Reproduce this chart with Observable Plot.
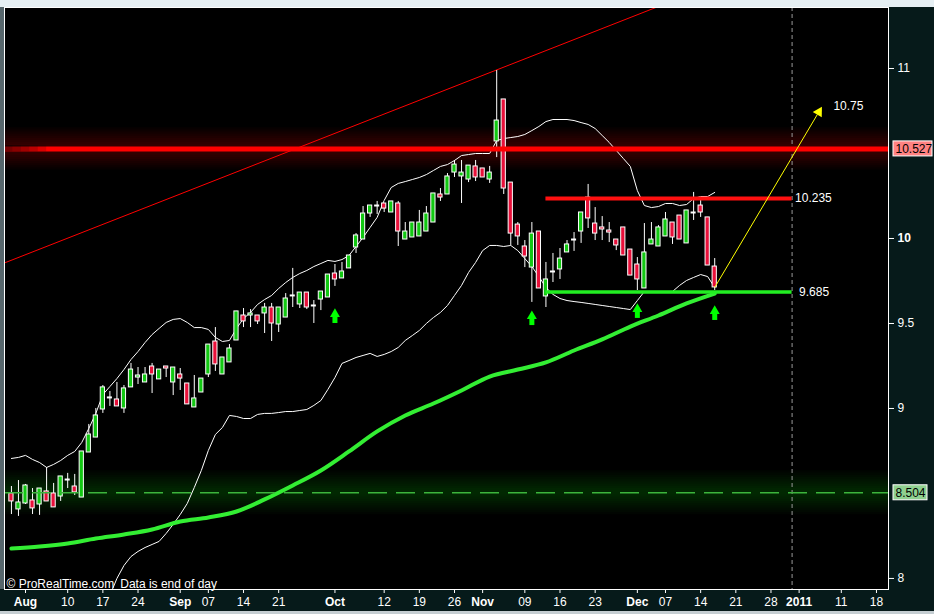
<!DOCTYPE html>
<html><head><meta charset="utf-8">
<script src="https://cdn.jsdelivr.net/npm/d3@7"></script>
<script src="https://cdn.jsdelivr.net/npm/@observablehq/plot@0.6"></script>
<style>
html,body{margin:0;padding:0;background:#e6eff3;}
#chart{width:934px;height:614px;overflow:hidden;}
#chart svg{display:block;}
</style></head><body><div id="chart"></div>
<script>
// ---- DATA ----
// Daily candles; trading-day index 0 = Mon 2 Aug 2010, first candle = Thu 29 Jul 2010
const firstIndex = -2;
const open  = [8.500,8.406,8.441,8.459,8.435,8.512,8.500,8.482,8.582,8.541,8.476,8.741,8.829,8.994,9.065,9.053,9.000,9.124,9.182,9.153,9.247,9.171,9.247,9.153,9.200,9.147,9.006,9.094,9.200,9.394,9.200,9.271,9.400,9.547,9.547,9.547,9.559,9.594,9.494,9.535,9.665,9.612,9.682,9.606,9.641,9.653,9.794,9.765,9.824,9.947,9.994,10.147,10.194,10.206,10.153,10.206,9.994,10.006,10.012,10.041,10.094,10.259,10.259,10.388,10.365,10.347,10.424,10.412,10.347,10.571,10.818,10.329,10.082,9.953,9.829,10.041,9.659,9.806,9.818,9.918,9.994,10.041,10.241,10.088,10.065,10.047,9.994,10.065,9.935,9.847,9.706,9.965,9.953,10.012,10.094,10.135,9.971,10.153,10.194,10.124,9.835];
const high  = [8.541,8.576,8.553,8.529,8.529,8.653,8.559,8.600,8.618,8.612,8.747,8.906,9.000,9.135,9.100,9.153,9.135,9.265,9.241,9.241,9.265,9.229,9.247,9.241,9.235,9.147,9.194,9.176,9.376,9.476,9.300,9.376,9.571,9.588,9.582,9.547,9.618,9.618,9.594,9.676,9.824,9.682,9.682,9.635,9.688,9.788,9.847,9.859,9.900,10.029,10.188,10.194,10.218,10.206,10.218,10.218,10.094,10.094,10.165,10.188,10.265,10.294,10.382,10.459,10.459,10.429,10.459,10.412,10.424,10.988,10.818,10.329,10.094,9.988,10.094,10.041,9.859,9.912,9.941,9.988,10.035,10.153,10.318,10.182,10.129,10.094,9.994,10.065,9.935,9.888,10.088,10.094,10.076,10.153,10.094,10.135,10.165,10.271,10.241,10.124,9.882];
const low   = [8.376,8.365,8.435,8.376,8.371,8.453,8.418,8.453,8.529,8.488,8.476,8.741,8.829,8.971,9.012,9.012,8.971,9.124,9.141,9.153,9.088,9.171,9.182,9.076,9.106,9.024,9.006,9.094,9.182,9.218,9.200,9.271,9.400,9.476,9.476,9.494,9.441,9.394,9.447,9.535,9.594,9.588,9.582,9.500,9.576,9.653,9.718,9.765,9.824,9.912,9.994,10.124,10.141,10.153,10.153,9.953,9.994,10.006,10.012,10.041,10.094,10.218,10.259,10.359,10.206,10.329,10.335,10.359,10.324,10.476,10.259,9.959,9.959,9.829,9.624,9.706,9.594,9.741,9.759,9.918,9.924,9.971,10.059,9.988,9.988,9.976,9.929,9.900,9.782,9.694,9.706,9.965,9.953,10.012,9.965,9.994,9.971,10.106,10.124,9.841,9.694];
const close = [8.453,8.447,8.547,8.412,8.529,8.453,8.418,8.600,8.582,8.506,8.747,8.847,8.959,9.124,9.065,9.012,9.118,9.229,9.194,9.200,9.200,9.229,9.235,9.241,9.176,9.024,9.059,9.176,9.376,9.259,9.300,9.353,9.571,9.512,9.559,9.512,9.594,9.500,9.594,9.647,9.665,9.682,9.594,9.606,9.688,9.788,9.759,9.806,9.900,10.018,10.147,10.194,10.194,10.176,10.218,10.041,10.041,10.094,10.094,10.147,10.265,10.241,10.365,10.435,10.388,10.429,10.359,10.359,10.388,10.694,10.294,10.029,10.012,9.894,10.029,9.706,9.759,9.806,9.882,9.965,9.994,10.153,10.118,10.029,10.053,10.035,9.959,9.900,9.782,9.759,9.918,9.994,10.065,10.112,10.006,9.994,10.165,10.153,10.153,9.841,9.712];

// Bollinger bands, one value per candle (null = below the chart)
const upperBand = [8.706,8.712,8.724,8.700,8.682,8.653,8.671,8.694,8.724,8.747,8.800,8.882,8.971,9.082,9.129,9.176,9.229,9.288,9.335,9.388,9.435,9.471,9.506,9.524,9.529,9.506,9.476,9.476,9.465,9.418,9.394,9.400,9.471,9.529,9.565,9.612,9.641,9.665,9.706,9.741,9.771,9.794,9.812,9.835,9.853,9.871,9.865,9.876,9.900,9.953,10.006,10.065,10.124,10.224,10.300,10.324,10.335,10.347,10.359,10.376,10.400,10.424,10.435,10.459,10.488,10.494,10.500,10.500,10.500,10.576,10.588,10.594,10.600,10.612,10.635,10.659,10.688,10.700,10.700,10.700,10.694,10.682,10.671,10.647,10.606,10.565,10.518,10.471,10.424,10.282,10.194,10.182,10.188,10.206,10.206,10.194,10.200,10.235,10.247,10.247,10.271];
const lowerBand = [null,null,null,null,null,null,null,null,null,null,null,null,null,null,7.900,8.000,8.076,8.129,8.159,8.182,8.200,8.218,8.265,8.318,8.376,8.441,8.535,8.635,8.753,8.847,8.888,8.959,8.953,8.941,8.941,8.965,8.971,8.971,8.976,8.982,8.982,8.988,8.994,9.018,9.047,9.112,9.182,9.265,9.282,9.300,9.312,9.324,9.306,9.318,9.335,9.359,9.400,9.429,9.459,9.500,9.535,9.565,9.606,9.665,9.724,9.800,9.859,9.929,9.959,9.959,9.953,9.959,9.929,9.882,9.835,9.776,9.712,9.671,9.647,9.635,9.629,9.624,9.618,9.612,9.606,9.600,9.594,9.588,9.582,9.635,9.688,9.688,9.688,9.688,9.688,9.724,9.753,9.771,9.788,9.776,9.712];

// Moving average (thick green line)
const maIndex = [-2,2,6,10,14,18,22,26,30,34,38,42,46,50,54,58,62,66,70,74,78,82,86,90,94,98];
const maValue = [8.176,8.188,8.206,8.235,8.259,8.288,8.335,8.359,8.394,8.465,8.547,8.635,8.747,8.865,8.959,9.029,9.106,9.188,9.229,9.271,9.341,9.406,9.482,9.547,9.618,9.676];

// x axis ticks (trading-day index) and labels
const monthTicks  = [0, 22, 44, 65, 87, 110];
const monthLabels = ["Aug", "Sep", "Oct", "Nov", "Dec", "2011"];
const dayTicks  = [6, 11, 16, 26, 31, 36, 51, 56, 61, 71, 76, 81, 91, 96, 101, 106, 116, 121];
const dayLabels = ["10","17","24","07","14","21","12","19","26","09","16","23","07","14","21","28","11","18"];
// y axis ticks
const yTicks = [8, 9, 9.5, 11];
const yTicksBold = [10];

// annotations
const resistance = 10.527;      // thick red line
const support = 8.504;          // dashed green line
const levelTop = 10.235, levelBottom = 9.685, levelFrom = 74, levelTo = 109;
const yearEnd = 109;            // Fri 31 Dec 2010
const trendStart = {i: -3, v: 9.856}, trendEnd = {i: 90, v: 11.365};
const target = {from: 98, fromV: 9.712, to: 112.6, toV: 10.73, label: "10.75"};
const arrowIdx = [44, 72, 87, 98];
const arrowTip = [9.588, 9.576, 9.618, 9.606];

// ---- BUILD ----
const candles = open.map((o, k) => ({i: firstIndex + k, o, h: high[k], l: low[k], c: close[k]}));
const ups = candles.filter(d => d.c > d.o);
const downs = candles.filter(d => d.c < d.o);
const dojis = candles.filter(d => d.c === d.o);
const upper = upperBand.map((v, k) => ({i: firstIndex + k, v})).filter(d => d.v != null);
const lower = lowerBand.map((v, k) => ({i: firstIndex + k, v})).filter(d => d.v != null);
const ma = maIndex.map((i, k) => ({i, v: maValue[k]}));
const arrows = arrowIdx.map((i, k) => ({i, v: arrowTip[k]}));
const monthName = new Map(monthTicks.map((t, k) => [t, monthLabels[k]]));
const dayName = new Map(dayTicks.map((t, k) => [t, dayLabels[k]]));
const glow = d3.range(1, 11);
const fade = d3.range(1, 6);

const xDomain = [-2.986, 122.71];
const yDomain = [7.935, 11.359];
const GREEN = "#12c812", RED = "#e8103a";

const chart = Plot.plot({
  width: 934, height: 614,
  marginLeft: 4, marginRight: 46, marginTop: 7, marginBottom: 25,
  x: {domain: xDomain, axis: null, label: null},
  y: {domain: yDomain, axis: null, label: null},
  style: {background: "#061a1a", color: "white", fontFamily: "'Liberation Sans', Arial, sans-serif", fontSize: "12px", overflow: "visible"},
  marks: [
    // top light strip, left strip, bottom light line
    Plot.rect([0], {x1: xDomain[0], x2: xDomain[1], y1: yDomain[1], y2: yDomain[1], insetLeft: -4, insetRight: -46, insetTop: -7, insetBottom: 0, fill: "#e6eff3"}),
    Plot.rect([0], {x1: xDomain[0], x2: xDomain[0], y1: yDomain[0], y2: yDomain[1], insetLeft: -4, insetRight: 0, fill: "#56666c"}),
    Plot.rect([0], {x1: xDomain[0], x2: xDomain[1], y1: yDomain[0], y2: yDomain[0], insetLeft: -4, insetRight: -46, insetTop: 22, insetBottom: -25, fill: "#c5ced2"}),
    Plot.frame({fill: "black"}),
    // glows
    Plot.rect(glow, {x1: xDomain[0], x2: xDomain[1], y1: k => resistance - k * 0.0125, y2: k => resistance + k * 0.0125, fill: "#ff0000", fillOpacity: 0.026}),
    Plot.rect(glow, {x1: xDomain[0], x2: xDomain[1], y1: k => support - k * 0.013, y2: k => support + k * 0.013, fill: "#33aa33", fillOpacity: 0.028}),
    // year-end dashed line
    Plot.ruleX([yearEnd], {stroke: "#9a9a9a", strokeDasharray: "4,3"}),
    // trend line
    Plot.link([0], {x1: trendStart.i, y1: trendStart.v, x2: trendEnd.i, y2: trendEnd.v, stroke: "#ff0000", strokeWidth: 1, clip: true}),
    // bands and moving average
    Plot.line(upper, {x: "i", y: "v", stroke: "white", strokeWidth: 1, clip: true}),
    Plot.line(lower, {x: "i", y: "v", stroke: "white", strokeWidth: 1, clip: true}),
    Plot.line(ma, {x: "i", y: "v", stroke: "#33ee33", strokeWidth: 4, curve: "monotone-x", clip: true}),
    // candles
    Plot.ruleX(candles, {x: "i", y1: "l", y2: "h", stroke: "white", strokeWidth: 1}),
    Plot.rect(ups, {x1: d => d.i - 0.3, x2: d => d.i + 0.3, y1: "o", y2: "c", fill: GREEN, stroke: "white", strokeWidth: 1}),
    Plot.rect(downs, {x1: d => d.i - 0.3, x2: d => d.i + 0.3, y1: "o", y2: "c", fill: RED, stroke: "white", strokeWidth: 1}),
    Plot.ruleY(dojis, {y: "c", x1: d => d.i - 0.36, x2: d => d.i + 0.36, stroke: "white", strokeWidth: 2}),
    // horizontal levels
    Plot.ruleY([levelTop], {x1: levelFrom, x2: levelTo, stroke: "#ff1010", strokeWidth: 4}),
    Plot.ruleY([levelBottom], {x1: levelFrom, x2: levelTo, stroke: "#22ee22", strokeWidth: 3.5}),
    Plot.ruleY([resistance], {stroke: "#ff0000", strokeWidth: 5}),
    Plot.rect(fade, {x1: xDomain[0], x2: k => xDomain[0] + k * 1.2, y1: resistance - 0.018, y2: resistance + 0.018, fill: "black", fillOpacity: 0.14}),
    Plot.ruleY([support], {stroke: "#3cb43c", strokeWidth: 1.5, strokeDasharray: "19,9"}),
    // target arrow
    Plot.link([0], {x1: target.from, y1: target.fromV, x2: target.to, y2: target.toV, stroke: "#ffff00", strokeWidth: 1}),
    Plot.dot([0], {x: target.to + 0.2, y: target.toV + 0.014, symbol: "triangle", r: 3.9, fill: "#ffff00", stroke: "none", rotate: 31}),
    // green up arrows
    Plot.ruleX(arrows, {x: "i", y1: "v", y2: "v", insetTop: 7, insetBottom: -15, stroke: "#00ff00", strokeWidth: 5}),
    Plot.dot(arrows, {x: "i", y: "v", dy: 5.6, symbol: "triangle", r: 3.7, fill: "#00ff00", stroke: "none"}),
    // labels
    Plot.text([levelTop], {x: levelTo, y: d => d, text: d => d.toFixed(3), dx: 3, textAnchor: "start", fill: "white"}),
    Plot.text([levelBottom], {x: levelTo, y: d => d, text: d => d.toFixed(3), dx: 7, textAnchor: "start", fill: "white"}),
    Plot.text([target.label], {x: target.to, y: target.toV, text: d => d, dx: 16, dy: -8, textAnchor: "start", fill: "white"}),
    Plot.text(["\u00a9 ProRealTime.com\u2002Data is end of day"], {frameAnchor: "bottom-left", dx: 2, dy: -2, textAnchor: "start", lineAnchor: "bottom", fill: "white"}),
    Plot.frame({stroke: "white"}),
    // axes
    Plot.axisX(monthTicks, {anchor: "bottom", label: null, tickSize: 4, tickPadding: 4, tickFormat: d => monthName.get(d), fontWeight: "bold", fontSize: 12}),
    Plot.axisX(dayTicks, {anchor: "bottom", label: null, tickSize: 4, tickPadding: 4, tickFormat: d => dayName.get(d), fontSize: 12}),
    Plot.axisY(yTicks, {anchor: "right", label: null, tickSize: 5, tickPadding: 4, tickFormat: d => String(d), fontSize: 12}),
    Plot.axisY(yTicksBold, {anchor: "right", label: null, tickSize: 5, tickPadding: 4, tickFormat: d => String(d), fontWeight: "bold", fontSize: 12}),
    // price boxes on the axis
    Plot.rect([resistance], {x1: xDomain[1], x2: xDomain[1], y1: d => d, y2: d => d, insetLeft: 5, insetRight: -44, insetTop: -7.5, insetBottom: -7.5, fill: "#ff8282", stroke: "white"}),
    Plot.text([resistance], {x: xDomain[1], y: d => d, text: d => d.toFixed(3), dx: 7, textAnchor: "start", fill: "black"}),
    Plot.rect([support], {x1: xDomain[1], x2: xDomain[1], y1: d => d, y2: d => d, insetLeft: 5, insetRight: -39, insetTop: -7.5, insetBottom: -7.5, fill: "#8fd08f", stroke: "white"}),
    Plot.text([support], {x: xDomain[1], y: d => d, text: d => d.toFixed(3), dx: 7, textAnchor: "start", fill: "black"})
  ]
});
document.getElementById("chart").appendChild(chart);
</script>
</body></html>
